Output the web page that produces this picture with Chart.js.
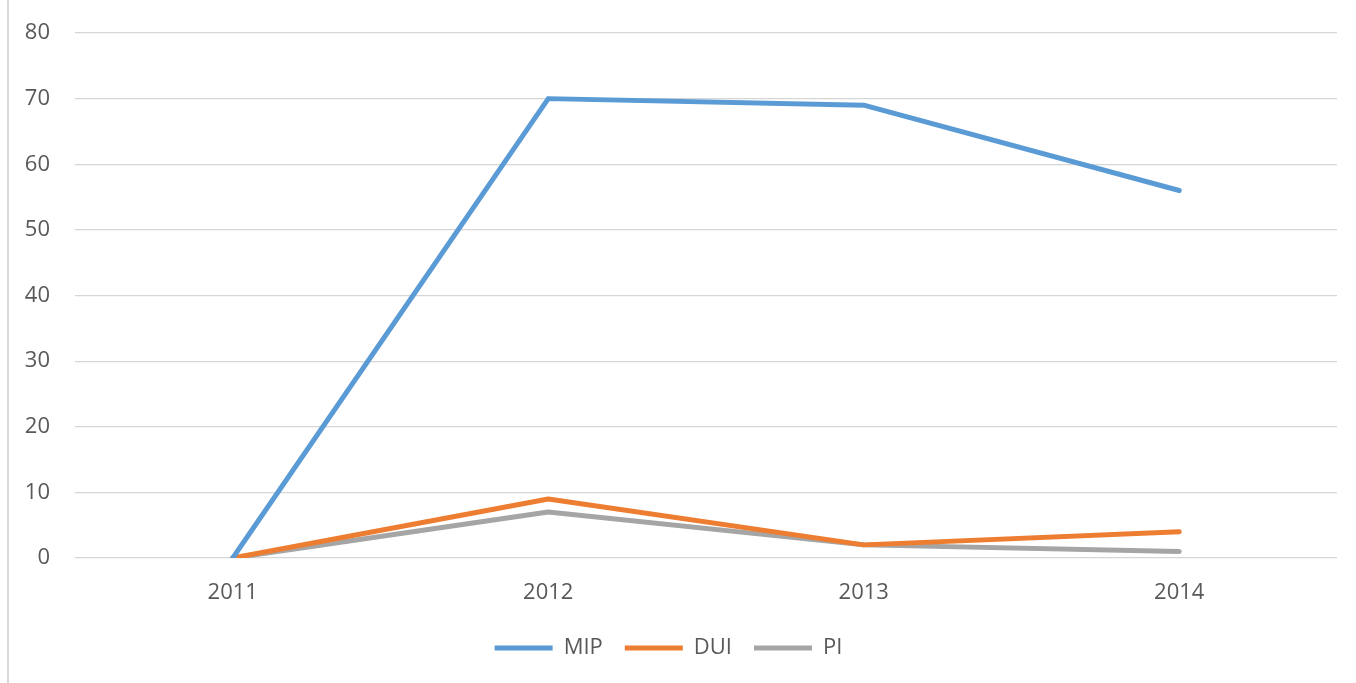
<!DOCTYPE html>
<html>
<head>
<meta charset="utf-8">
<script src="https://cdn.jsdelivr.net/npm/chart.js@4"></script>
<style>
    html, body { margin: 0; padding: 0; background: #fff; }
    #wrap { position: relative; width: 1356px; height: 683px; }
    #edge { position: absolute; left: 7px; top: 0; width: 2px; height: 683px; background: #d9d9d9; }
</style>
</head>
<body>
<div id="wrap">
    <div id="edge"></div>
    <canvas id="chart" width="1356" height="683"></canvas>
</div>
<script>
const years = ['2011', '2012', '2013', '2014'];
const mip = [0, 70, 69, 56];
const dui = [0, 9, 2, 4];
const pi = [0, 7, 2, 1];

const font = { family: "'Open Sans', sans-serif", size: 22 };
const textColor = '#595959';

function serie(label, data, color) {
    return {
        label: label,
        data: data,
        borderColor: color,
        backgroundColor: color,
        borderWidth: 5,
        borderCapStyle: 'round',
        borderJoinStyle: 'round',
        pointRadius: 0,
        pointHoverRadius: 0,
        tension: 0,
        fill: false
    };
}

new Chart(document.getElementById('chart'), {
    type: 'line',
    data: {
        labels: years,
        datasets: [
            serie('MIP', mip, '#5b9bd5'),
            serie('DUI', dui, '#ed7d31'),
            serie('PI', pi, '#a5a5a5')
        ]
    },
    options: {
        responsive: false,
        animation: false,
        layout: { padding: { top: 33, right: 19, left: 0, bottom: 14 } },
        plugins: {
            legend: {
                position: 'bottom',
                labels: {
                    font: font,
                    color: textColor,
                    usePointStyle: true,
                    pointStyle: 'line',
                    pointStyleWidth: 58,
                    padding: 22
                }
            },
            tooltip: { enabled: false }
        },
        scales: {
            x: {
                offset: true,
                grid: { display: false },
                border: { display: false },
                ticks: { font: font, color: textColor, padding: 14 },
                afterFit: s => { s.height = 57; }
            },
            y: {
                min: 0,
                max: 80,
                ticks: { stepSize: 10, font: font, color: textColor, padding: 25 },
                grid: { color: '#d6d6d6', lineWidth: 1.2, drawTicks: false },
                border: { display: false },
                afterFit: s => { s.width = 75; s.paddingTop = 0; s.paddingBottom = 0; }
            }
        }
    }
});
</script>
</body>
</html>
